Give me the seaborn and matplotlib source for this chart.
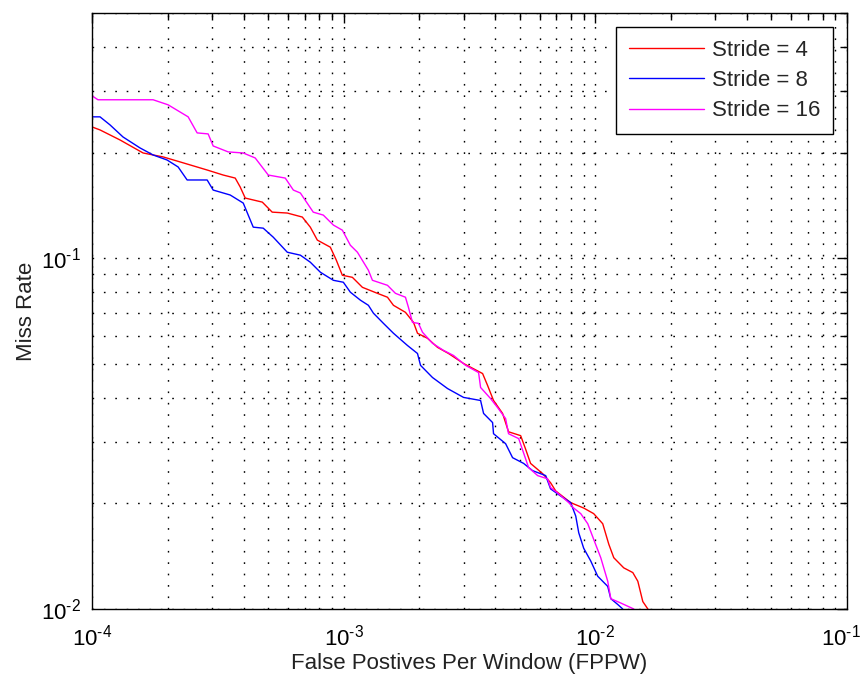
import numpy as np
import pandas as pd
import matplotlib
matplotlib.use("Agg")
import matplotlib.pyplot as plt
import matplotlib.transforms as mtransforms
import seaborn as sns
from matplotlib.ticker import LogLocator, NullFormatter, FuncFormatter

# ---- data ----
series_names = ["Stride = 4", "Stride = 8", "Stride = 16"]
series_colors = ["#FF0000", "#0000FF", "#FF00FF"]

fppw_s4 = [1.0e-4, 1.076e-4, 1.292e-4, 1.596e-4, 1.917e-4, 2.240e-4, 2.868e-4, 3.322e-4,
           3.707e-4, 3.88e-4, 4.063e-4, 4.75e-4, 5.20e-4, 5.97e-4, 6.85e-4, 7.37e-4,
           7.86e-4, 8.85e-4, 9.35e-4, 9.88e-4, 1.083e-3, 1.187e-3, 1.362e-3, 1.493e-3,
           1.577e-3, 1.760e-3, 1.895e-3, 1.965e-3, 2.154e-3, 2.360e-3, 2.610e-3, 2.995e-3,
           3.565e-3, 3.73e-3, 3.94e-3, 4.28e-3, 4.52e-3, 5.05e-3, 5.28e-3, 5.53e-3,
           6.18e-3, 6.64e-3, 6.96e-3, 7.98e-3, 8.99e-3, 9.85e-3, 1.070e-2, 1.131e-2,
           1.184e-2, 1.297e-2, 1.409e-2, 1.475e-2, 1.544e-2, 1.617e-2]
miss_s4 = [0.2367, 0.2321, 0.2173, 0.1995, 0.1944, 0.1881, 0.1784, 0.1726,
           0.1692, 0.1596, 0.1484, 0.1445, 0.1353, 0.1345, 0.1310, 0.1226,
           0.1126, 0.1075, 0.0987, 0.0894, 0.0882, 0.0826, 0.0794, 0.0774,
           0.0734, 0.0701, 0.0656, 0.0611, 0.0591, 0.0557, 0.0535, 0.0501,
           0.0469, 0.0434, 0.0393, 0.0361, 0.0320, 0.0312, 0.0286, 0.0260,
           0.0243, 0.0229, 0.0217, 0.0201, 0.0194, 0.0187, 0.0175, 0.0153,
           0.0140, 0.0131, 0.0127, 0.0120, 0.0105, 0.0100]

fppw_s8 = [1.0e-4, 1.076e-4, 1.179e-4, 1.328e-4, 1.552e-4, 1.749e-4, 1.988e-4, 2.199e-4,
           2.388e-4, 2.868e-4, 3.03e-4, 3.541e-4, 3.99e-4, 4.372e-4, 4.79e-4, 5.25e-4,
           5.97e-4, 6.73e-4, 7.37e-4, 8.08e-4, 9.10e-4, 9.97e-4, 1.063e-3, 1.166e-3,
           1.254e-3, 1.313e-3, 1.439e-3, 1.577e-3, 1.792e-3, 1.965e-3, 2.020e-3, 2.254e-3,
           2.587e-3, 2.995e-3, 3.50e-3, 3.597e-3, 3.906e-3, 3.94e-3, 4.40e-3, 4.69e-3,
           5.19e-3, 5.63e-3, 6.35e-3, 6.64e-3, 7.28e-3, 7.98e-3, 8.36e-3, 8.59e-3,
           8.99e-3, 9.59e-3, 1.022e-2, 1.120e-2, 1.152e-2, 1.228e-2, 1.285e-2]
miss_s8 = [0.2529, 0.2529, 0.2399, 0.2216, 0.2062, 0.1969, 0.1905, 0.1820,
           0.1671, 0.1671, 0.1564, 0.1514, 0.1436, 0.1226, 0.1218, 0.1148,
           0.1040, 0.1020, 0.0974, 0.0912, 0.0865, 0.0854, 0.0800, 0.0759,
           0.0734, 0.0697, 0.0652, 0.0611, 0.0564, 0.0535, 0.0495, 0.0457,
           0.0425, 0.0401, 0.0393, 0.0361, 0.0340, 0.0316, 0.0296, 0.0270,
           0.0260, 0.0248, 0.0240, 0.0220, 0.0210, 0.0201, 0.0184, 0.0165,
           0.0149, 0.0137, 0.0124, 0.0116, 0.0107, 0.0103, 0.0100]

fppw_s16 = [1.0e-4, 1.056e-4, 1.749e-4, 2.006e-4, 2.410e-4, 2.617e-4, 2.894e-4, 3.03e-4,
            3.477e-4, 3.99e-4, 4.45e-4, 5.017e-4, 5.86e-4, 6.31e-4, 6.73e-4, 7.57e-4,
            8.30e-4, 9.10e-4, 9.88e-4, 1.063e-3, 1.134e-3, 1.254e-3, 1.301e-3, 1.493e-3,
            1.606e-3, 1.760e-3, 1.809e-3, 1.877e-3, 1.983e-3, 2.057e-3, 2.254e-3, 2.493e-3,
            2.733e-3, 3.05e-3, 3.436e-3, 3.50e-3, 3.835e-3, 4.09e-3, 4.40e-3, 4.52e-3,
            4.96e-3, 5.43e-3, 5.90e-3, 6.46e-3, 6.64e-3, 7.09e-3, 7.84e-3, 8.20e-3,
            8.75e-3, 9.33e-3, 9.85e-3, 1.051e-2, 1.120e-2, 1.152e-2, 1.262e-2, 1.422e-2]
miss_s16 = [0.2904, 0.2829, 0.2829, 0.2737, 0.2529, 0.2276, 0.2261, 0.2089,
            0.2009, 0.1995, 0.1931, 0.1726, 0.1692, 0.1564, 0.1534, 0.1353,
            0.1327, 0.1243, 0.1202, 0.1089, 0.1040, 0.0924, 0.0865, 0.0837,
            0.0794, 0.0774, 0.0724, 0.0656, 0.0652, 0.0615, 0.0572, 0.0546,
            0.0528, 0.0495, 0.0472, 0.0428, 0.0398, 0.0375, 0.0349, 0.0316,
            0.0306, 0.0253, 0.0240, 0.0235, 0.0222, 0.0214, 0.0201, 0.0194,
            0.0187, 0.0175, 0.0158, 0.0140, 0.0120, 0.0107, 0.0104, 0.0100]

x_label = "False Postives Per Window (FPPW)"
y_label = "Miss Rate"

# ---- long-form table ----
frames = []
for name, xs, ys in zip(series_names,
                        [fppw_s4, fppw_s8, fppw_s16],
                        [miss_s4, miss_s8, miss_s16]):
    frames.append(pd.DataFrame({"fppw": xs, "miss": ys, "series": name}))
df = pd.concat(frames, ignore_index=True)

# ---- style ----
sns.set_theme(style="white")
plt.rcParams["font.family"] = ["Liberation Sans", "DejaVu Sans"]
plt.rcParams["mathtext.fontset"] = "custom"
plt.rcParams["mathtext.rm"] = "Liberation Sans"
plt.rcParams["mathtext.it"] = "Liberation Sans"
plt.rcParams["mathtext.default"] = "regular"

FS = 16

fig = plt.figure(figsize=(8.62, 6.79), dpi=100)
ax = fig.add_axes([92 / 862, 1 - 609 / 679, (847 - 92) / 862, (609 - 13) / 679])

sns.lineplot(data=df, x="fppw", y="miss", hue="series",
             palette=dict(zip(series_names, series_colors)),
             estimator=None, sort=False, linewidth=1.0, ax=ax)

ax.set_xscale("log")
ax.set_yscale("log")
ax.set_xlim(1e-4, 1e-1)
ax.set_ylim(1e-2, 0.5)


def pow_label(v, pos):
    e = int(round(np.log10(v)))
    if e < 0:
        return r"$10^{\text{-}%d}$" % (-e)
    return r"$10^{%d}$" % e


for axis in (ax.xaxis, ax.yaxis):
    axis.set_major_locator(LogLocator(base=10, numticks=10))
    axis.set_minor_locator(LogLocator(base=10, subs=np.arange(2, 10), numticks=20))
    axis.set_major_formatter(FuncFormatter(pow_label))
    axis.set_minor_formatter(NullFormatter())

grid_kw = dict(color="black", linestyle=(0, (1.2, 7)), linewidth=1.0, alpha=1.0)
ax.grid(True, which="both", axis="both", **grid_kw)
ax.set_axisbelow(True)

ax.tick_params(which="both", direction="in", top=True, right=True,
               colors="black", labelsize=FS, width=1.0)
ax.tick_params(which="major", length=7)
ax.tick_params(which="minor", length=5)
ax.tick_params(axis="x", which="both", pad=11)
ax.tick_params(axis="y", which="both", pad=8)
for sp in ax.spines.values():
    sp.set_color("black")
    sp.set_linewidth(1.0)
    sp.set_visible(True)

ax.set_xlabel(x_label, fontsize=FS, color="#222222", labelpad=2)
ax.set_ylabel(y_label, fontsize=FS, color="#222222", labelpad=3)

sns.move_legend(ax, "upper right", title=None, frameon=True, fancybox=False,
                framealpha=1, edgecolor="black", fontsize=FS,
                handlelength=3.4, labelspacing=0.42, borderaxespad=0.65,
                borderpad=0.55, handletextpad=0.35)
ax.get_legend().get_frame().set_linewidth(1.0)

# keep the right-most x tick label inside the canvas, as in the reference
fig.canvas.draw()
shift = mtransforms.ScaledTranslation(-6 / 100, 0, fig.dpi_scale_trans)
for tick in ax.xaxis.get_major_ticks():
    if np.isclose(tick.get_loc(), ax.get_xlim()[1]):
        tick.label1.set_transform(tick.label1.get_transform() + shift)

fig.savefig("out.png", dpi=100)
